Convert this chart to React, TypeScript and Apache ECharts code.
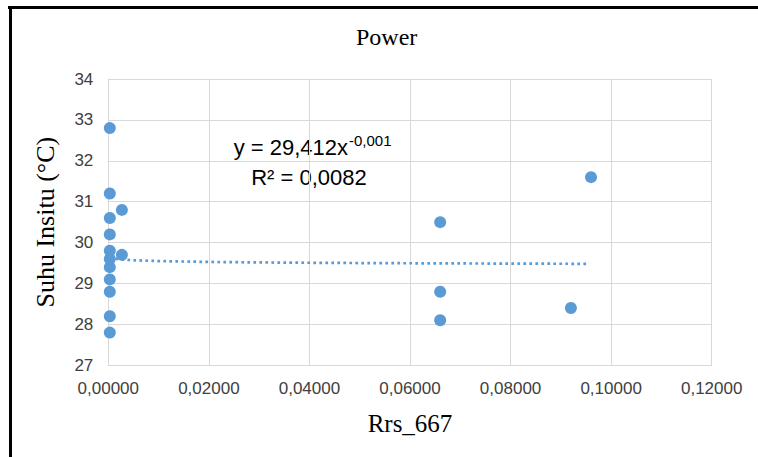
import React, { useEffect, useRef } from "react";
import * as echarts from "echarts";

// Scatter data
const xValues: number[] = [
  0.0003, 0.0003, 0.0003, 0.0003, 0.0003, 0.0003, 0.0003, 0.0003, 0.0003, 0.0003, 0.0003,
  0.0027, 0.0027, 0.066, 0.066, 0.066, 0.092, 0.096,
];
const yValues: number[] = [
  32.8, 31.2, 30.6, 30.2, 29.8, 29.6, 29.4, 29.1, 28.8, 28.2, 27.8,
  30.8, 29.7, 30.5, 28.8, 28.1, 28.4, 31.6,
];

// Power trendline as stated on the chart: y = 29,412 x^-0,001
const trendCoefA = 29.412;
const trendCoefB = -0.001;
const trendX: number[] = [0.0003, 0.001, 0.002, 0.005, 0.01, 0.02, 0.03, 0.04, 0.05, 0.06, 0.07, 0.08, 0.09, 0.0955];

const chartTitle = "Power";
const xAxisTitle = "Rrs_667";
const yAxisTitle = "Suhu Insitu (°C)";
const eqMain = "y = 29,412x";
const eqSup = "-0,001";
const eqR2 = "R² = 0,0082";

const xMin = 0, xMax = 0.12, xStep = 0.02;
const yMin = 27, yMax = 34, yStep = 1;

export default function App() {
  const ref = useRef<HTMLDivElement>(null);
  useEffect(() => {
    if (!ref.current) return;
    const chart = echarts.init(ref.current, null, { renderer: "svg" });
    const points = xValues.map((x, i) => [x, yValues[i]]);
    const trend = trendX.map((x) => [x, trendCoefA * Math.pow(x, trendCoefB)]);
    const blue = "#5B9BD5";
    const grid = "#d9d9d9";
    const serif = "'Liberation Serif', 'Times New Roman', serif";
    const sans = "'Liberation Sans', Arial, sans-serif";
    chart.setOption({
      animation: false,
      backgroundColor: "#ffffff",
      title: {
        text: chartTitle,
        left: 356,
        top: 25,
        padding: 0,
        textStyle: { fontFamily: serif, fontSize: 24, fontWeight: "normal", color: "#000" },
      },
      grid: { left: 108.3, right: 46.3, top: 79, bottom: 91.7, containLabel: false },
      xAxis: {
        type: "value",
        min: xMin,
        max: xMax,
        interval: xStep,
        name: xAxisTitle,
        nameLocation: "middle",
        nameGap: 46,
        nameTextStyle: { fontFamily: serif, fontSize: 25, color: "#000" },
        axisLine: { show: true, lineStyle: { color: grid, width: 1 } },
        axisTick: { show: false },
        axisLabel: {
          margin: 15,
          fontFamily: sans,
          fontSize: 17,
          color: "#404040",
          formatter: (v: number) => v.toFixed(5).replace(".", ","),
        },
        splitLine: { show: true, lineStyle: { color: grid, width: 1 } },
      },
      yAxis: {
        type: "value",
        min: yMin,
        max: yMax,
        interval: yStep,
        name: yAxisTitle,
        nameLocation: "middle",
        nameGap: 50,
        nameRotate: 90,
        nameTextStyle: { fontFamily: serif, fontSize: 26, color: "#000" },
        axisLine: { show: true, lineStyle: { color: grid, width: 1 } },
        axisTick: { show: false },
        axisLabel: { margin: 15, fontFamily: sans, fontSize: 17, color: "#404040" },
        splitLine: { show: true, lineStyle: { color: grid, width: 1 } },
      },
      series: [
        {
          type: "line",
          data: trend,
          showSymbol: false,
          symbol: "none",
          smooth: false,
          lineStyle: { color: blue, width: 2.7, type: [2.7, 3.3], cap: "butt" },
          z: 3,
        },
        {
          type: "scatter",
          data: points,
          symbol: "circle",
          symbolSize: 12,
          itemStyle: { color: blue, opacity: 1 },
          z: 2,
        },
      ],
      graphic: [
        { type: "line", shape: { x1: 8, y1: 7.5, x2: 758, y2: 7.5 }, style: { stroke: "#000", lineWidth: 3 } },
        { type: "line", shape: { x1: 10.5, y1: 6, x2: 10.5, y2: 457 }, style: { stroke: "#000", lineWidth: 3 } },
        {
          type: "text",
          x: 348,
          y: 147,
          style: { text: eqMain, font: `22px ${sans}`, fill: "#000", textAlign: "right", textVerticalAlign: "middle" },
        },
        {
          type: "text",
          x: 349,
          y: 140,
          style: { text: eqSup, font: `15px ${sans}`, fill: "#000", textAlign: "left", textVerticalAlign: "middle" },
        },
        {
          type: "text",
          x: 309,
          y: 177,
          style: { text: eqR2, font: `22px ${sans}`, fill: "#000", textAlign: "center", textVerticalAlign: "middle" },
        },
      ],
    });
    return () => chart.dispose();
  }, []);
  return <div ref={ref} style={{ position: "fixed", left: 0, top: 0, width: 758, height: 457 }} />;
}
